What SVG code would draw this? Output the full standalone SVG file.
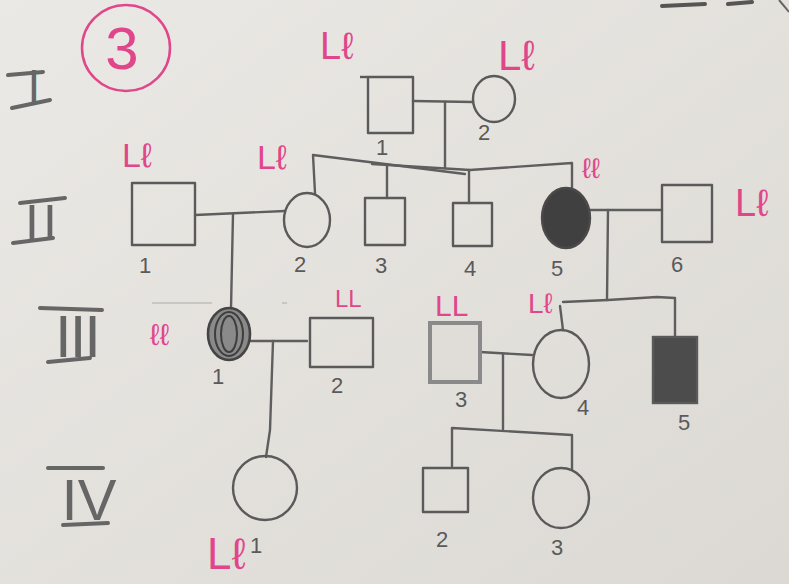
<svg xmlns="http://www.w3.org/2000/svg" width="789" height="584" viewBox="0 0 789 584">
<defs>
<linearGradient id="paper" x1="0" y1="0" x2="1" y2="1">
<stop offset="0" stop-color="#ebe9e5"/>
<stop offset="1" stop-color="#dcd9d4"/>
</linearGradient>
<style>
.pen{fill:none;stroke:#5e5e5e;stroke-width:2.4;stroke-linecap:round;stroke-linejoin:round}
.sym{fill:none;stroke:#5a5a5a;stroke-width:2.4;stroke-linejoin:round}
.pink{fill:#e0478a;font-family:"Liberation Sans","DejaVu Sans",sans-serif}
.num{fill:#5a5a5a;font-family:"Liberation Sans","DejaVu Sans",sans-serif;font-size:22px;text-anchor:middle}
.roman{fill:#666;font-family:"Liberation Sans","DejaVu Sans",sans-serif;text-anchor:middle}
.bar{stroke:#666;stroke-width:4;stroke-linecap:round}
</style>
</defs>
<rect width="789" height="584" fill="url(#paper)"/>

<!-- generation numerals -->
<g id="gen-I">
<line class="bar" x1="8" y1="75" x2="43" y2="72"/>
<line class="bar" x1="12" y1="108" x2="50" y2="100"/>
<text class="roman" x="34" y="102" font-size="46">I</text>
</g>
<g id="gen-II">
<line class="bar" x1="20" y1="203" x2="65" y2="198"/>
<line class="bar" x1="13" y1="243" x2="53" y2="238"/>
<text class="roman" x="43" y="240" font-size="50" letter-spacing="4">II</text>
</g>
<g id="gen-III">
<line class="bar" x1="40" y1="308" x2="102" y2="310"/>
<line class="bar" x1="48" y1="362" x2="90" y2="358"/>
<text class="roman" x="77" y="357" font-size="60" letter-spacing="-2">III</text>
</g>
<g id="gen-IV">
<line class="bar" x1="48" y1="468" x2="103" y2="468"/>
<line class="bar" x1="63" y1="525" x2="108" y2="523"/>
<text class="roman" x="89" y="520" font-size="58">IV</text>
</g>

<!-- problem number -->
<g id="problem-number">
<ellipse cx="126" cy="48" rx="44" ry="43" fill="none" stroke="#e0478a" stroke-width="2.5"/>
<text class="pink" x="122" y="69" font-size="60" text-anchor="middle">3</text>
</g>

<!-- partial marks at top right edge -->
<g id="edge-marks">
<line x1="662" y1="6" x2="705" y2="4" stroke="#555" stroke-width="4" stroke-linecap="round"/>
<line x1="728" y1="4" x2="752" y2="2" stroke="#555" stroke-width="4" stroke-linecap="round"/>
<path d="M779,0 Q785,7 789,12" fill="none" stroke="#666" stroke-width="2"/>
</g>

<!-- connectors -->
<g id="connectors">
<path class="pen" d="M413,101 L473,102"/>
<path class="pen" d="M445,102 L445,168"/>
<path class="pen" d="M315,193 L313,155 L465,174"/>
<path class="pen" d="M372,164 L470,170 L572,163 L572,190"/>
<path class="pen" d="M387,166 L387,198"/>
<path class="pen" d="M469,170 L469,203"/>
<path class="pen" d="M195,215 L285,211"/>
<path class="pen" d="M233,214 L231,309"/>
<path class="pen" d="M590,210 L662,210"/>
<path class="pen" d="M608,210 L607,300"/>
<path class="pen" d="M563,302 L608,300 L657,297 L675,298 L675,338"/>
<path class="pen" d="M560,306 L563,330"/>
<path class="pen" d="M250,341 L307,341"/>
<path class="pen" d="M273,341 L270,430 L266,457"/>
<path class="pen" d="M480,352 L532,355"/>
<path class="pen" d="M503,354 L503,429"/>
<path class="pen" d="M452,466 L452,428 L572,435 L572,470"/>
<path d="M152,303 L287,303" fill="none" stroke="#c9c7c3" stroke-width="2" stroke-dasharray="60 70"/>
</g>

<!-- Generation I -->
<g id="I-1">
<rect class="sym" x="368" y="77" width="45" height="56"/>
<line class="sym" x1="360" y1="77" x2="368" y2="77"/>
<text class="num" x="382" y="155">1</text>
<text class="pink" x="320" y="59" font-size="38">Lℓ</text>
</g>
<g id="I-2">
<ellipse class="sym" cx="494" cy="99" rx="21" ry="23"/>
<text class="num" x="484" y="140">2</text>
<text class="pink" x="498" y="70" font-size="42">Lℓ</text>
</g>

<!-- Generation II -->
<g id="II-1">
<rect class="sym" x="132" y="183" width="63" height="62"/>
<text class="num" x="145" y="273">1</text>
<text class="pink" x="122" y="167" font-size="34">Lℓ</text>
</g>
<g id="II-2">
<ellipse class="sym" cx="307" cy="220" rx="23" ry="27"/>
<text class="num" x="300" y="272">2</text>
<text class="pink" x="257" y="169" font-size="34">Lℓ</text>
</g>
<g id="II-3">
<rect class="sym" x="365" y="198" width="40" height="47"/>
<text class="num" x="381" y="273">3</text>
</g>
<g id="II-4">
<rect class="sym" x="453" y="203" width="39" height="43"/>
<text class="num" x="470" y="276">4</text>
</g>
<g id="II-5">
<ellipse cx="566" cy="218" rx="24" ry="30" fill="#404040" stroke="#4a4a4a" stroke-width="2.4"/>
<text class="num" x="557" y="276">5</text>
<text class="pink" x="582" y="178" font-size="28">ℓℓ</text>
</g>
<g id="II-6">
<rect class="sym" x="662" y="185" width="50" height="57"/>
<text class="num" x="677" y="272">6</text>
<text class="pink" x="735" y="216" font-size="38">Lℓ</text>
</g>

<!-- Generation III -->
<g id="III-1">
<ellipse cx="229" cy="334" rx="21" ry="26" fill="#8a8a8a" stroke="#444" stroke-width="2.6"/>
<ellipse cx="229" cy="334" rx="14" ry="22" fill="none" stroke="#3e3e3e" stroke-width="2"/>
<ellipse cx="229" cy="334" rx="8" ry="18" fill="none" stroke="#3e3e3e" stroke-width="2"/>
<text class="num" x="218" y="384">1</text>
<text class="pink" x="150" y="345" font-size="30">ℓℓ</text>
</g>
<g id="III-2">
<rect class="sym" x="310" y="318" width="63" height="49"/>
<text class="num" x="337" y="393">2</text>
<text class="pink" x="335" y="307" font-size="24">LL</text>
</g>
<g id="III-3">
<rect x="430" y="323" width="50" height="59" fill="#e0ddd8" stroke="#8a8a8a" stroke-width="4"/>
<text class="num" x="461" y="407">3</text>
<text class="pink" x="435" y="316" font-size="30">LL</text>
</g>
<g id="III-4">
<ellipse class="sym" cx="561" cy="364" rx="28" ry="34"/>
<text class="num" x="583" y="415">4</text>
<text class="pink" x="528" y="313" font-size="28">Lℓ</text>
</g>
<g id="III-5">
<rect x="653" y="337" width="44" height="66" fill="#4c4c4c" stroke="#5a5a5a" stroke-width="2.4"/>
<text class="num" x="684" y="430">5</text>
</g>

<!-- Generation IV -->
<g id="IV-1">
<ellipse class="sym" cx="265" cy="488" rx="32" ry="32"/>
<text class="pink" x="207" y="569" font-size="44">Lℓ</text>
<text class="num" x="256" y="553" font-size="18">1</text>
</g>
<g id="IV-2">
<rect class="sym" x="423" y="468" width="45" height="44"/>
<text class="num" x="442" y="547">2</text>
</g>
<g id="IV-3">
<ellipse class="sym" cx="561" cy="498" rx="28" ry="30"/>
<text class="num" x="557" y="555">3</text>
</g>
</svg>
